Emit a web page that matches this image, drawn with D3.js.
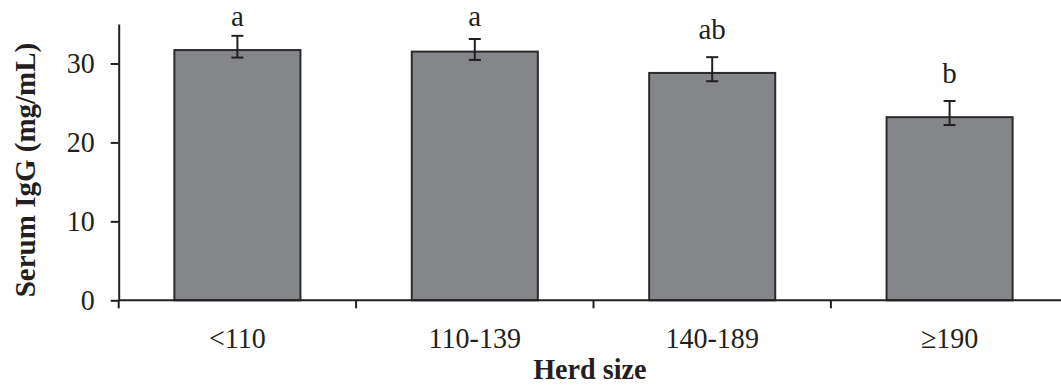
<!DOCTYPE html>
<html>
<head>
<meta charset="utf-8">
<script src="https://cdn.jsdelivr.net/npm/d3@7"></script>
<style>
  html, body { margin: 0; padding: 0; background: #fff; }
  svg { display: block; }
  text { font-family: "Liberation Serif", "Times New Roman", serif; fill: #231f20; }
</style>
</head>
<body>
<svg id="chart" width="1061" height="385"></svg>
<script>
const categories = ["<110", "110-139", "140-189", "\u2265190"];
const means = [31.7, 31.5, 28.8, 23.2];
const upper = [33.5, 33.1, 30.8, 25.25];
const lower = [30.75, 30.45, 27.75, 22.2];
const letters = ["a", "a", "ab", "b"];
const yTicks = [0, 10, 20, 30];

const svg = d3.select("#chart");
const ink = "#231f20";

const x0 = 118.7, step = 237.4;
const x = d3.scaleBand().domain(categories).range([x0, x0 + step * categories.length]).padding(0);
const y = d3.scaleLinear().domain([0, 35]).range([300.3, 24]);
const barW = x.bandwidth() * 0.531;

function condense(sel, k) {
  sel.each(function () {
    const w = this.getComputedTextLength();
    d3.select(this).attr("textLength", w * k).attr("lengthAdjust", "spacingAndGlyphs");
  });
}

// bars
svg.selectAll("rect.bar").data(categories).join("rect")
  .attr("class", "bar")
  .attr("x", d => x(d) + (x.bandwidth() - barW) / 2)
  .attr("y", (d, i) => y(means[i]))
  .attr("width", barW)
  .attr("height", (d, i) => y(0) - y(means[i]))
  .attr("fill", "#858689")
  .attr("stroke", "#2b2b2d")
  .attr("stroke-width", 2);

// error bars
const cap = 6;
const eb = svg.append("g").attr("stroke", ink).attr("stroke-width", 2);
categories.forEach((c, i) => {
  const cx = x(c) + x.bandwidth() / 2;
  eb.append("line").attr("x1", cx).attr("x2", cx).attr("y1", y(lower[i])).attr("y2", y(upper[i]));
  eb.append("line").attr("x1", cx - cap).attr("x2", cx + cap).attr("y1", y(upper[i])).attr("y2", y(upper[i]));
  eb.append("line").attr("x1", cx - cap).attr("x2", cx + cap).attr("y1", y(lower[i])).attr("y2", y(lower[i]));
});

// significance letters
svg.selectAll("text.sig").data(categories).join("text")
  .attr("class", "sig")
  .attr("x", d => x(d) + x.bandwidth() / 2)
  .attr("y", (d, i) => Math.max(y(upper[i]) - 18, 26))
  .attr("text-anchor", "middle")
  .attr("font-size", 29)
  .text((d, i) => letters[i]);

// y axis
const yAxis = svg.append("g").attr("transform", `translate(${x0},0)`)
  .call(d3.axisLeft(y).tickValues(yTicks).tickSize(8).tickSizeOuter(0).tickPadding(16).tickFormat(d3.format("d")));
yAxis.select(".domain").attr("stroke", ink).attr("stroke-width", 2);
yAxis.selectAll(".tick line").attr("stroke", ink).attr("stroke-width", 2);
yAxis.selectAll(".tick text").attr("font-size", 29.5).attr("fill", ink)
  .attr("font-family", "Liberation Serif, serif").call(condense, 0.95);

// x axis line
svg.append("line").attr("x1", x0).attr("x2", 1061).attr("y1", y(0)).attr("y2", y(0))
  .attr("stroke", ink).attr("stroke-width", 2);

// x ticks at band boundaries
svg.selectAll("line.xtick").data(categories).join("line")
  .attr("class", "xtick")
  .attr("x1", d => x(d)).attr("x2", d => x(d))
  .attr("y1", y(0)).attr("y2", y(0) + 8)
  .attr("stroke", ink).attr("stroke-width", 2);

// x labels
svg.selectAll("text.xlab").data(categories).join("text")
  .attr("class", "xlab")
  .attr("x", d => x(d) + x.bandwidth() / 2)
  .attr("y", 347.5)
  .attr("text-anchor", "middle")
  .attr("font-size", 29.5)
  .text(d => d)
  .call(condense, 0.95);

// axis titles
svg.append("text")
  .attr("x", (x0 + 1061) / 2)
  .attr("y", 379)
  .attr("text-anchor", "middle")
  .attr("font-size", 29)
  .attr("font-weight", "bold")
  .text("Herd size")
  .call(condense, 0.97);

svg.append("text")
  .attr("transform", "translate(35,170) rotate(-90)")
  .attr("text-anchor", "middle")
  .attr("font-size", 29)
  .attr("font-weight", "bold")
  .text("Serum IgG (mg/mL)");
</script>
</body>
</html>
